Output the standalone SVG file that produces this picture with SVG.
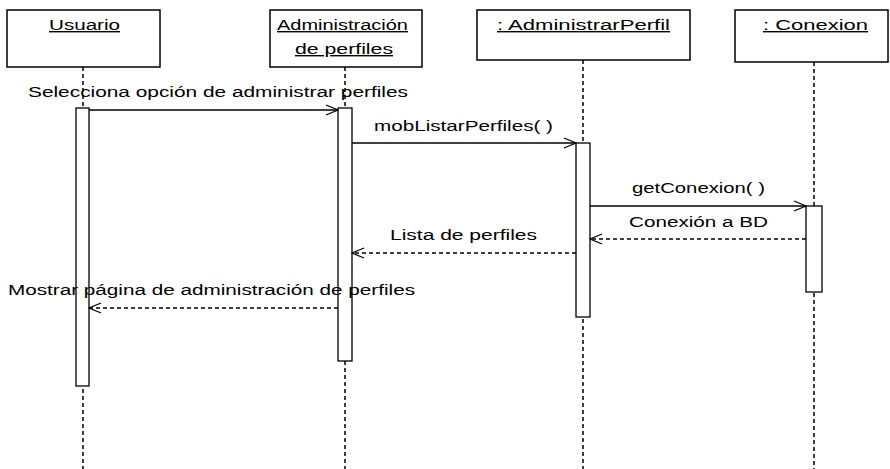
<svg xmlns="http://www.w3.org/2000/svg" width="890" height="469" viewBox="0 0 890 469">
<style>
.box{fill:#fff;stroke:#000;stroke-width:1.5}
.life{stroke:#000;stroke-width:1.5;stroke-dasharray:4 3;fill:none}
.act{fill:#fff;stroke:#000;stroke-width:1.3}
.t{font-family:"Liberation Sans",Arial,sans-serif;font-size:14px;fill:#000}
.u{text-decoration:underline}
.msg{stroke:#000;stroke-width:1.3;fill:none}
.ret{stroke:#000;stroke-width:1.3;fill:none;stroke-dasharray:4 3}
</style>
<defs>
<marker id="open" markerWidth="14" markerHeight="12" refX="13" refY="6" orient="auto" markerUnits="userSpaceOnUse">
<path d="M1,1 L13,6 L1,11" fill="none" stroke="#000" stroke-width="1.3"/>
</marker>
</defs>
<rect width="890" height="469" fill="#fff"/>
<g id="lifelines">
<line class="life" x1="83" y1="67" x2="83" y2="469"/>
<line class="life" x1="345" y1="67" x2="345" y2="469"/>
<line class="life" x1="583" y1="60" x2="583" y2="469"/>
<line class="life" x1="814" y1="62" x2="814" y2="469"/>
</g>
<g id="usuario">
<rect class="box" x="7" y="10" width="153" height="57"/>
<text class="t u" x="49" y="30" textLength="71" lengthAdjust="spacingAndGlyphs">Usuario</text>
<rect class="act" x="76" y="108" width="13" height="278"/>
</g>
<g id="administracion">
<rect class="box" x="270" y="10" width="152" height="57"/>
<text class="t u" x="277" y="30" textLength="131" lengthAdjust="spacingAndGlyphs">Administración</text>
<text class="t u" x="295" y="54" textLength="98" lengthAdjust="spacingAndGlyphs">de perfiles</text>
<rect class="act" x="338" y="108" width="14" height="253"/>
</g>
<g id="administrarperfil">
<rect class="box" x="477" y="10" width="213" height="50"/>
<text class="t u" x="497" y="30" textLength="173" lengthAdjust="spacingAndGlyphs">: AdministrarPerfil</text>
<rect class="act" x="576" y="143" width="14" height="174"/>
</g>
<g id="conexion">
<rect class="box" x="735" y="10" width="153" height="52"/>
<text class="t u" x="763" y="30" textLength="105" lengthAdjust="spacingAndGlyphs">: Conexion</text>
<rect class="act" x="806" y="206" width="16" height="86"/>
</g>
<g id="connectors">
<line class="msg" x1="89" y1="110" x2="338" y2="110" marker-end="url(#open)"/>
<line class="msg" x1="352" y1="143" x2="576" y2="143" marker-end="url(#open)"/>
<line class="msg" x1="590" y1="206" x2="806" y2="206" marker-end="url(#open)"/>
<line class="ret" x1="806" y1="239" x2="590" y2="239" marker-end="url(#open)"/>
<line class="ret" x1="576" y1="253" x2="352" y2="253" marker-end="url(#open)"/>
<line class="ret" x1="338" y1="308" x2="89" y2="308" marker-end="url(#open)"/>
</g>
<g id="labels">
<text class="t" x="28" y="97" textLength="380" lengthAdjust="spacingAndGlyphs">Selecciona opción de administrar perfiles</text>
<text class="t" x="374" y="131" textLength="179" lengthAdjust="spacingAndGlyphs">mobListarPerfiles( )</text>
<text class="t" x="632" y="193" textLength="133" lengthAdjust="spacingAndGlyphs">getConexion( )</text>
<text class="t" x="629" y="227" textLength="139" lengthAdjust="spacingAndGlyphs">Conexión a BD</text>
<text class="t" x="390" y="240" textLength="147" lengthAdjust="spacingAndGlyphs">Lista de perfiles</text>
<text class="t" x="8" y="295" textLength="407" lengthAdjust="spacingAndGlyphs">Mostrar página de administración de perfiles</text>
</g>
</svg>
